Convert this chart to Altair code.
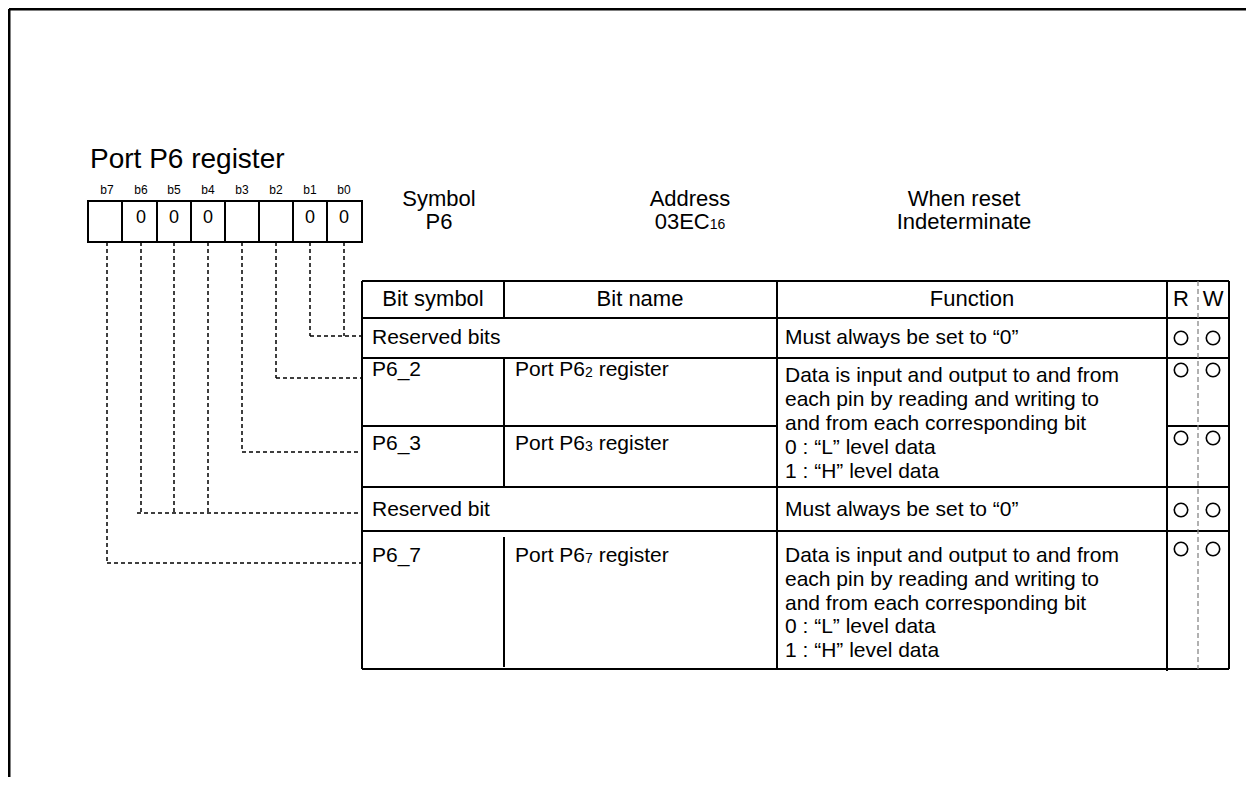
import altair as alt
import pandas as pd

FONT = "Liberation Sans"

# ---------------- content ----------------
title_text = "Port P6 register"
bit_names = ["b7", "b6", "b5", "b4", "b3", "b2", "b1", "b0"]
bit_values = ["", "0", "0", "0", "", "", "0", "0"]

info_heads = ["Symbol", "Address", "When reset"]
info_values = ["P6", "03EC", "Indeterminate"]
info_subs = ["", "16", ""]

header_cols = ["Bit symbol", "Bit name", "Function", "R", "W"]

row_symbols = ["Reserved bits", "P6_2", "P6_3", "Reserved bit", "P6_7"]
row_name_base = ["", "Port P6", "Port P6", "", "Port P6"]
row_name_sub = ["", "2", "3", "", "7"]
row_name_tail = ["", "register", "register", "", "register"]
func_reserved = "Must always be set to \u201c0\u201d"
func_port = [
    "Data is input and output to and from",
    "each pin by reading and writing to",
    "and from each corresponding bit",
    "0 : \u201cL\u201d level data",
    "1 : \u201cH\u201d level data",
]

# ---------------- layout (page pixel units) ----------------
title_pos = (90, 160)
bit_x = [107, 141, 174, 208, 242, 276, 310, 344]
cell_edges = [88, 122, 157, 191, 225, 259, 293, 327, 362]
box_top, box_bottom = 201, 242
bit_label_y, bit_value_y = 190, 218
info_x = [439, 690, 964]
info_y = [199, 222]
connector_y = [563, 513, 513, 513, 452, 378, 336, 336]
joins = [(310, 336), (276, 378), (242, 452), (137, 513), (107, 563)]
col_x = [362, 504, 777, 1167, 1198, 1229]
row_y = [281, 318, 358, 426, 487, 531, 669]
header_x = [433, 640, 972, 1181, 1213]
header_y = 299
row_text_y = [338, 370, 444, 510, 556]
rw_y = [338, 370, 438, 510, 549]
func_lines_y = {1: [376, 400, 424, 447.5, 471.5], 4: [556, 580, 604, 627, 651]}
sym_x, name_x, func_x = 372, 515, 785
MAIN, HEAD, SUB, SMALL, ZERO, TITLE = 21, 22, 14, 12, 18, 28

ARIAL = {" ": 278, "P": 667, "o": 556, "r": 333, "t": 278, "E": 667, "C": 722}


def text_w(s, size):
    return sum(ARIAL.get(c, 556) for c in s) * size / 1000.0


# ---------------- build tables ----------------
texts = []
texts.append(dict(x=title_pos[0], y=title_pos[1], text=title_text, size=TITLE, align="left"))
for i, b in enumerate(bit_names):
    texts.append(dict(x=bit_x[i], y=bit_label_y, text=b, size=SMALL, align="center"))
    if bit_values[i]:
        texts.append(dict(x=bit_x[i], y=bit_value_y, text=bit_values[i], size=ZERO, align="center"))
for i, h in enumerate(info_heads):
    texts.append(dict(x=info_x[i], y=info_y[0], text=h, size=HEAD, align="center"))
    if info_subs[i]:
        w = text_w(info_values[i], HEAD) + text_w(info_subs[i], SUB)
        x0 = info_x[i] - w / 2
        texts.append(dict(x=x0, y=info_y[1], text=info_values[i], size=HEAD, align="left"))
        texts.append(dict(x=x0 + text_w(info_values[i], HEAD), y=info_y[1] + 3,
                          text=info_subs[i], size=SUB, align="left"))
    else:
        texts.append(dict(x=info_x[i], y=info_y[1], text=info_values[i], size=HEAD, align="center"))
for i, h in enumerate(header_cols):
    texts.append(dict(x=header_x[i], y=header_y, text=h, size=HEAD, align="center"))
for i, s in enumerate(row_symbols):
    y = row_text_y[i]
    texts.append(dict(x=sym_x, y=y, text=s, size=MAIN, align="left"))
    if row_name_base[i]:
        xs = name_x + text_w(row_name_base[i], MAIN)
        texts.append(dict(x=name_x, y=y, text=row_name_base[i], size=MAIN, align="left"))
        texts.append(dict(x=xs, y=y + 3, text=row_name_sub[i], size=SUB, align="left"))
        xt = xs + text_w(row_name_sub[i], SUB) + text_w(" ", MAIN)
        texts.append(dict(x=xt, y=y, text=row_name_tail[i], size=MAIN, align="left"))
    if i in func_lines_y:
        for ln, ly in zip(func_port, func_lines_y[i]):
            texts.append(dict(x=func_x, y=ly, text=ln, size=MAIN, align="left"))
    elif i in (0, 3):
        texts.append(dict(x=func_x, y=y, text=func_reserved, size=MAIN, align="left"))
texts = pd.DataFrame(texts)

cells = pd.DataFrame(dict(x=cell_edges[:-1], x2=cell_edges[1:],
                          y=[box_top] * 8, y2=[box_bottom] * 8))

# connectors
dash_segs = []
for i in range(8):
    dash_segs.append(dict(x=bit_x[i], x2=bit_x[i], y=box_bottom, y2=connector_y[i]))
for jx, jy in joins:
    dash_segs.append(dict(x=jx, x2=col_x[0], y=jy, y2=jy))
dash_segs = pd.DataFrame(dash_segs)

# table lines
L, R = col_x[0], col_x[-1]
solid = []
for y in row_y:
    if y == 426:
        solid.append(dict(x=L, x2=col_x[2], y=y, y2=y))
        solid.append(dict(x=col_x[3], x2=R, y=y, y2=y))
    else:
        solid.append(dict(x=L, x2=R, y=y, y2=y))
for x in (L, col_x[2], R):
    solid.append(dict(x=x, x2=x, y=row_y[0], y2=row_y[-1]))
solid.append(dict(x=col_x[3], x2=col_x[3], y=row_y[0], y2=row_y[-1] + 2))
for a, b in [(281, 318), (358, 487), (537, 667)]:
    solid.append(dict(x=col_x[1], x2=col_x[1], y=a, y2=b))
solid = pd.DataFrame(solid)

rw_div = pd.DataFrame([dict(x=col_x[4], x2=col_x[4], y=row_y[0], y2=row_y[-1])])

frame = pd.DataFrame([dict(x=9, x2=1246, y=9, y2=9), dict(x=9, x2=9, y=9, y2=777)])

circles = pd.DataFrame([dict(x=cx, y=cy) for cy in rw_y for cx in header_x[3:]])

# ---------------- encodings ----------------
XS = alt.Scale(domain=[8, 1246], nice=False, zero=False)
YS = alt.Scale(domain=[8, 777], nice=False, zero=False, reverse=True)


def seg_enc():
    return dict(x=alt.X("x:Q", scale=XS, axis=None), x2="x2:Q",
                y=alt.Y("y:Q", scale=YS, axis=None), y2="y2:Q")


frame_layer = alt.Chart(frame).mark_rule(color="black", strokeWidth=3).encode(**seg_enc())
box_layer = alt.Chart(cells).mark_rect(fill="white", stroke="black", strokeWidth=2).encode(**seg_enc())
dash_layer = alt.Chart(dash_segs).mark_rule(color="black", strokeWidth=1.5,
                                            strokeDash=[4, 3]).encode(**seg_enc())
solid_layer = alt.Chart(solid).mark_rule(color="black", strokeWidth=2).encode(**seg_enc())
rw_layer = alt.Chart(rw_div).mark_rule(color="#888888", strokeWidth=1.3,
                                       strokeDash=[5, 3]).encode(**seg_enc())
circle_layer = alt.Chart(circles).mark_point(shape="circle", filled=False, color="black",
                                             size=180, strokeWidth=1.6, opacity=1).encode(
    x=alt.X("x:Q", scale=XS, axis=None), y=alt.Y("y:Q", scale=YS, axis=None))

text_layers = []
for al in ["left", "center"]:
    sub = texts[texts["align"] == al]
    text_layers.append(
        alt.Chart(sub).mark_text(align=al, baseline="middle", font=FONT, color="black").encode(
            x=alt.X("x:Q", scale=XS, axis=None),
            y=alt.Y("y:Q", scale=YS, axis=None),
            text="text:N",
            size=alt.Size("size:Q", scale=None, legend=None),
        )
    )

chart = alt.layer(frame_layer, box_layer, dash_layer, solid_layer, rw_layer, circle_layer,
                  *text_layers).properties(
    width=1238, height=769, padding=0, autosize="none", background="white"
).configure_view(stroke=None)

chart.save("out.html", embed_options={"renderer": "svg", "actions": False})
